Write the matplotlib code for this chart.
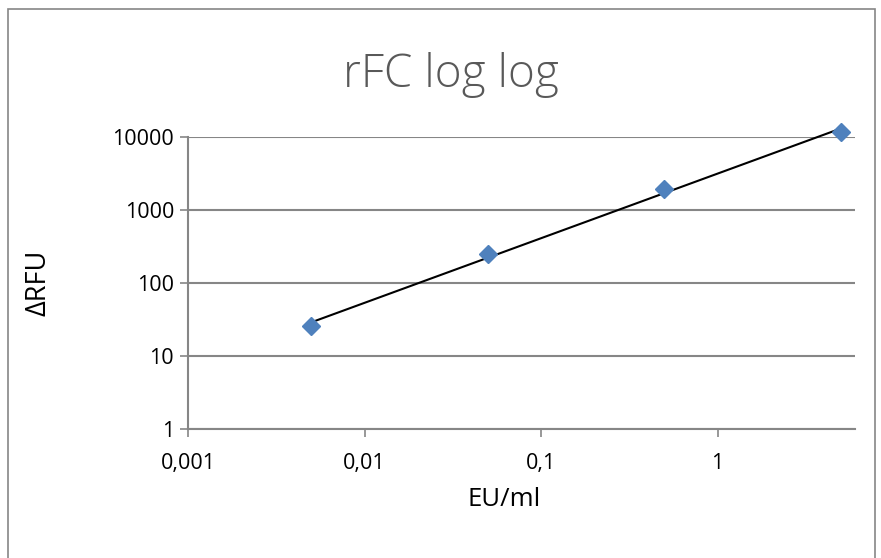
import numpy as np
import matplotlib
matplotlib.use("Agg")
import matplotlib.pyplot as plt
from matplotlib.patches import Rectangle

plt.rcParams['font.family'] = ['Open Sans', 'DejaVu Sans']

# data
conc = [0.005, 0.05, 0.5, 5]          # EU/ml
drfu = [25.6, 251, 1940, 11560]       # delta RFU
xticks = [0.001, 0.01, 0.1, 1]
xticklabels = ["0,001", "0,01", "0,1", "1"]
yticks = [1, 10, 100, 1000, 10000]
yticklabels = ["1", "10", "100", "1000", "10000"]

grey = "#868686"
blue = "#4F81BD"

fig = plt.figure(figsize=(8.81, 5.58), dpi=100)
fig.patches.append(Rectangle((8 / 881, -0.05), 867 / 881, 1.05 - 9 / 558,
                             transform=fig.transFigure, fill=False,
                             edgecolor=grey, lw=1.2))

ax = fig.add_axes((188 / 881, 1 - 429 / 558, 667 / 881, 292 / 558))
ax.set_xscale("log")
ax.set_yscale("log")
ax.set_xlim(0.001, 6)
ax.set_ylim(1, 10000)

# power trendline (linear fit in log-log space)
lx, ly = np.log10(conc), np.log10(drfu)
k, b = np.polyfit(lx, ly, 1)
xt = np.array([conc[0], conc[-1]])
ax.plot(xt, 10 ** (b + k * np.log10(xt)), color="black", lw=1.5, clip_on=False, zorder=3)
ax.plot(conc, drfu, ls="none", marker="D", ms=9, color=blue, clip_on=False, zorder=4)

ax.set_xticks(xticks)
ax.set_xticklabels(xticklabels)
ax.set_yticks(yticks)
ax.set_yticklabels(yticklabels)
ax.minorticks_off()
ax.tick_params(axis="both", direction="out", length=6, width=1.2, color=grey,
               labelsize=15.5, labelcolor="black")
ax.tick_params(axis="x", pad=11)
ax.tick_params(axis="y", pad=4)
ax.grid(axis="y", color=grey, lw=1.5)
ax.set_axisbelow(True)
for s in ["top", "right"]:
    ax.spines[s].set_visible(False)
for s in ["left", "bottom"]:
    ax.spines[s].set_color(grey)
    ax.spines[s].set_linewidth(1.5)

fig.text(451 / 881, 1 - 87 / 558, "rFC log log", ha="center", va="baseline",
         fontsize=33, color="#595959", fontweight="light")
fig.text(504 / 881, 1 - 499 / 558, "EU/ml", ha="center", va="center",
         fontsize=18.5, color="black")
fig.text(38 / 881, 1 - 283 / 558, "\u0394RFU", ha="center", va="center",
         rotation=90, fontsize=19.5, color="black")

fig.savefig("out.png", dpi=100)
